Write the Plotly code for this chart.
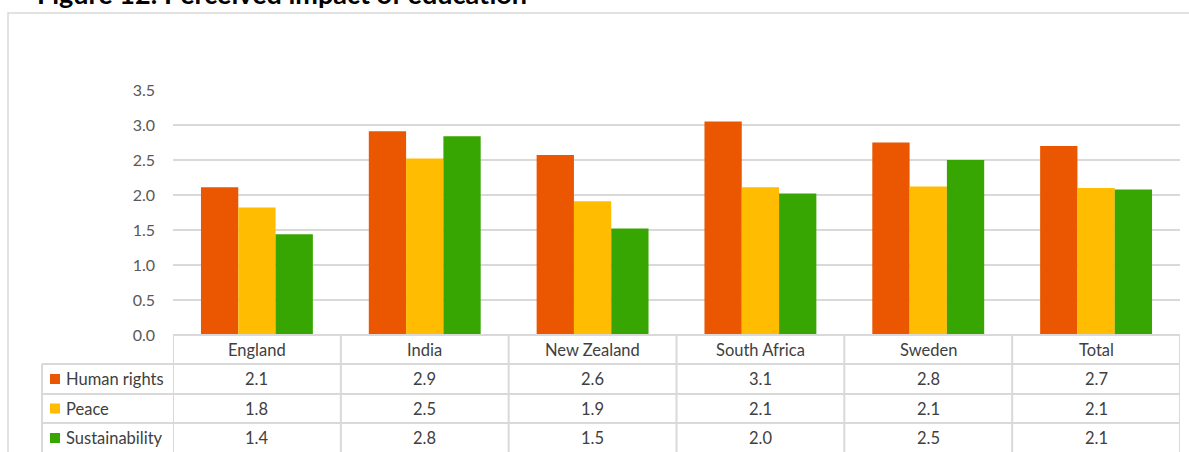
import plotly.graph_objects as go

categories = ["England", "India", "New Zealand", "South Africa", "Sweden", "Total"]
series_names = ["Human rights", "Peace", "Sustainability"]
human_rights = [2.11, 2.91, 2.57, 3.05, 2.75, 2.70]
peace = [1.82, 2.52, 1.91, 2.11, 2.12, 2.10]
sustainability = [1.44, 2.84, 1.52, 2.02, 2.50, 2.08]
table_human_rights = ["2.1", "2.9", "2.6", "3.1", "2.8", "2.7"]
table_peace = ["1.8", "2.5", "1.9", "2.1", "2.1", "2.1"]
table_sustainability = ["1.4", "2.8", "1.5", "2.0", "2.5", "2.1"]
tick_values = [0, 0.5, 1.0, 1.5, 2.0, 2.5, 3.0, 3.5]
tick_labels = ["0.0", "0.5", "1.0", "1.5", "2.0", "2.5", "3.0", "3.5"]
title_text = "Figure 12: Perceived impact of education"

colors = ["#EB5600", "#FFBC00", "#38A602"]
series_values = [human_rights, peace, sustainability]
table_rows = [table_human_rights, table_peace, table_sustainability]

W, H = 1189, 452
L, R, T, B = 173, 1180, 90, 335
FONT = "Lato"
GRID = "#d9d9d9"
TXT = "#404040"


def X(px):
    return (px - L) / (R - L)


def Y(py):
    return (B - py) / (B - T)


fig = go.Figure()
for name, vals, col in zip(series_names, series_values, colors):
    fig.add_trace(go.Bar(x=categories, y=vals, name=name, marker=dict(color=col, line=dict(width=0))))

shapes = []
# outer frame
shapes.append(dict(type="rect", xref="paper", yref="paper", x0=X(8), x1=X(1196), y0=Y(13), y1=Y(470),
                   line=dict(color=GRID, width=1.5), fillcolor="rgba(0,0,0,0)", layer="below"))
# table horizontal lines
row_tops = [335, 364, 394, 423, 453]
shapes.append(dict(type="line", xref="paper", yref="paper", x0=X(173), x1=X(1180), y0=Y(335), y1=Y(335),
                   line=dict(color=GRID, width=2)))
for ry in row_tops[1:]:
    shapes.append(dict(type="line", xref="paper", yref="paper", x0=X(42), x1=X(1180), y0=Y(ry), y1=Y(ry),
                       line=dict(color=GRID, width=2)))
# table vertical lines at category boundaries
for i in range(len(categories) + 1):
    shapes.append(dict(type="line", xref="x", yref="paper", x0=i - 0.5, x1=i - 0.5, y0=Y(335), y1=Y(460),
                       line=dict(color=GRID, width=2)))
shapes.append(dict(type="line", xref="paper", yref="paper", x0=X(42), x1=X(42), y0=Y(364), y1=Y(460),
                   line=dict(color=GRID, width=2)))

annotations = []
annotations.append(dict(text="<b>" + title_text + "</b>", xref="paper", yref="paper", x=X(35), y=Y(12.5),
                        xanchor="left", yanchor="bottom", showarrow=False,
                        font=dict(family=FONT, size=27, color="#000000")))
# header row
for i, c in enumerate(categories):
    annotations.append(dict(text=c, xref="x", yref="paper", x=i, y=Y(349.5), xanchor="center", yanchor="middle",
                            showarrow=False, font=dict(family=FONT, size=16.5, color=TXT)))
# data rows
for r, (name, col, row) in enumerate(zip(series_names, colors, table_rows)):
    cy = (row_tops[r + 1] + row_tops[r + 2]) / 2
    shapes.append(dict(type="rect", xref="paper", yref="paper", x0=X(50), x1=X(60), y0=Y(cy - 5), y1=Y(cy + 5),
                       fillcolor=col, line=dict(width=0)))
    annotations.append(dict(text=name, xref="paper", yref="paper", x=X(64), y=Y(cy), xanchor="left",
                            yanchor="middle", showarrow=False, font=dict(family=FONT, size=16.5, color=TXT)))
    for i, t in enumerate(row):
        annotations.append(dict(text=t, xref="x", yref="paper", x=i, y=Y(cy), xanchor="center", yanchor="middle",
                                showarrow=False, font=dict(family=FONT, size=16.5, color=TXT)))

fig.update_layout(
    width=W, height=H,
    margin=dict(l=L, r=W - R, t=T, b=H - B, pad=0),
    paper_bgcolor="white", plot_bgcolor="white",
    barmode="group", bargap=1 / 3, bargroupgap=0,
    showlegend=False,
    shapes=shapes, annotations=annotations,
    xaxis=dict(range=[-0.5, 5.5], showticklabels=False, showgrid=False, zeroline=False, showline=False,
               ticks="", fixedrange=True),
    yaxis=dict(range=[0, 3.5], tickvals=tick_values, ticktext=tick_labels, showgrid=True, gridcolor=GRID,
               gridwidth=1.5, zeroline=False, showline=False, ticks="", ticklabelstandoff=17,
               tickfont=dict(family=FONT, size=16, color="#595959"), fixedrange=True),
)

fig.write_html("out.html", config={"displayModeBar": False},
               post_script="document.body.style.margin='0';document.body.style.overflow='hidden';")
